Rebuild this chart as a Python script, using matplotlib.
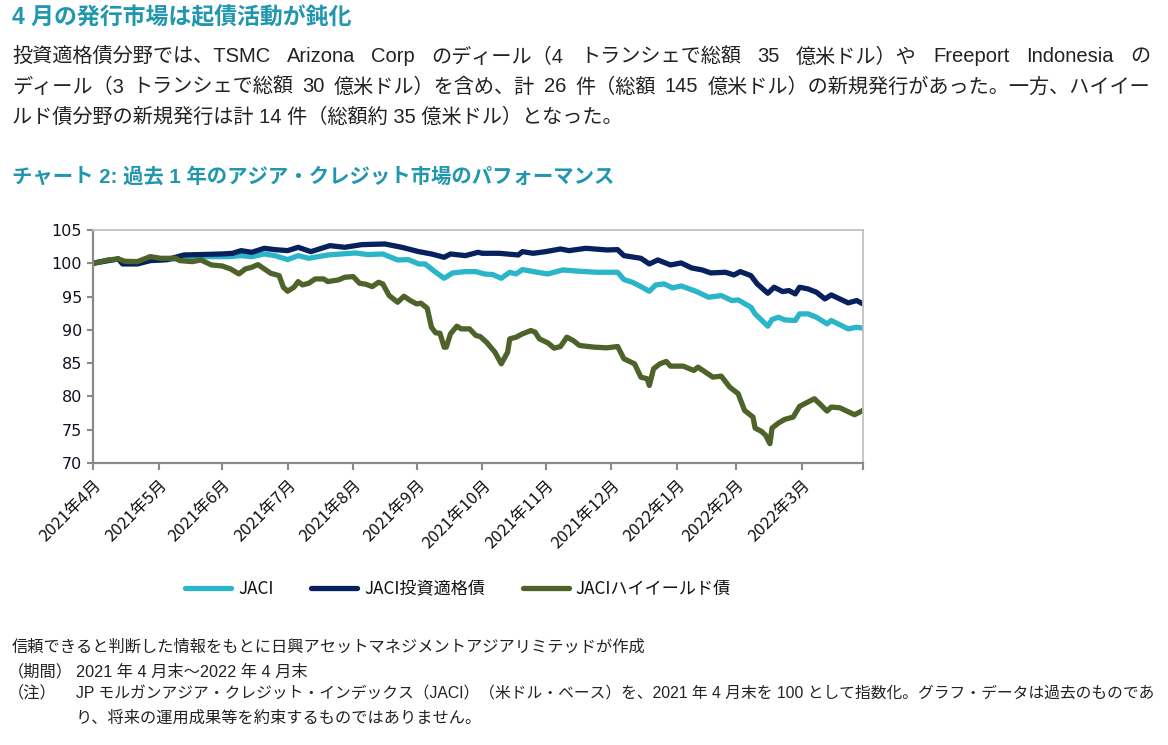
import pandas as pd
import matplotlib
matplotlib.use('Agg')
import matplotlib.pyplot as plt

plt.rcParams['font.family'] = ['Liberation Sans', 'Noto Sans CJK JP']

# 日数は 2021-04-30 からの経過日数
jaci_day = [0, 7, 12, 14, 21, 27, 35, 45, 53, 64, 70, 75, 81, 86, 92, 97, 102, 111, 124, 130,
            137, 144, 149, 154, 157, 162, 166, 170, 176, 181, 185, 189, 193, 197, 200, 203, 210, 215, 222, 230,
            238, 248, 251, 255, 259, 263, 266, 270, 274, 278, 285, 291, 297, 302, 305, 311, 313, 319, 321, 324,
            327, 332, 334, 338, 342, 347, 349, 357, 361, 364]
jaci_val = [100.0, 100.4, 100.65, 100.0, 100.0, 100.45, 100.55, 100.85, 101.0, 101.0,
            101.15, 101.0, 101.4, 101.15, 100.55, 101.15, 100.75, 101.25, 101.55, 101.3,
            101.4, 100.5, 100.55, 99.9, 99.9, 98.65, 97.75, 98.55, 98.75, 98.75,
            98.4, 98.3, 97.75, 98.65, 98.4, 99.05, 98.65, 98.4, 99.0, 98.8,
            98.65, 98.65, 97.55, 97.15, 96.5, 95.8, 96.75, 96.9, 96.3, 96.6,
            95.8, 94.9, 95.15, 94.4, 94.5, 93.4, 92.4, 90.55, 91.55, 91.9,
            91.5, 91.4, 92.4, 92.4, 91.9, 90.9, 91.4, 90.15, 90.4, 90.25]

ig_day = [0, 7, 12, 14, 21, 27, 35, 43, 50, 61, 66, 70, 75, 81, 86, 92, 97, 103, 112, 119,
          127, 138, 146, 154, 160, 166, 169, 176, 182, 184, 192, 201, 203, 208, 214, 221, 225, 233, 243, 248,
          251, 259, 263, 267, 273, 278, 283, 288, 292, 299, 303, 306, 311, 314, 319, 322, 326, 329, 332, 334,
          338, 342, 346, 349, 357, 361, 364]
ig_val = [100.0, 100.4, 100.65, 99.9, 99.9, 100.4, 100.55, 101.25, 101.3, 101.4,
          101.5, 101.9, 101.65, 102.25, 102.05, 101.9, 102.4, 101.75, 102.65, 102.4,
          102.8, 102.9, 102.4, 101.75, 101.4, 100.9, 101.4, 101.15, 101.65, 101.5,
          101.5, 101.25, 101.75, 101.5, 101.75, 102.15, 101.9, 102.25, 102.0, 102.05,
          101.15, 100.75, 99.9, 100.5, 99.75, 100.05, 99.3, 99.0, 98.55, 98.65,
          98.25, 98.75, 98.15, 96.9, 95.5, 96.4, 95.75, 95.9, 95.4, 96.4,
          96.15, 95.65, 94.65, 95.25, 94.05, 94.4, 93.9]

hy_day = [0, 7, 12, 15, 21, 27, 32, 39, 41, 47, 51, 56, 61, 65, 69, 72, 75, 78, 81, 84,
          88, 90, 92, 95, 97, 99, 102, 105, 109, 111, 116, 119, 123, 126, 129, 132, 135, 137, 140, 144,
          147, 150, 153, 155, 158, 160, 162, 164, 166, 167, 169, 172, 174, 178, 181, 183, 186, 190, 193, 196,
          197, 200, 203, 207, 209, 211, 215, 218, 221, 224, 227, 230, 237, 243, 248, 251, 256, 259, 262, 263,
          265, 268, 271, 273, 279, 284, 286, 293, 297, 301, 305, 308, 312, 313, 316, 318, 320, 321, 324, 327,
          331, 334, 337, 341, 344, 347, 349, 353, 360, 364]
hy_val = [100.0, 100.5, 100.65, 100.3, 100.25, 101.0, 100.75, 100.75, 100.4, 100.25,
          100.5, 99.75, 99.6, 99.15, 98.4, 99.15, 99.4, 99.8, 99.15, 98.5,
          98.15, 96.4, 95.8, 96.4, 97.25, 96.75, 97.0, 97.65, 97.65, 97.25,
          97.5, 97.9, 98.0, 97.0, 96.85, 96.5, 97.15, 96.9, 95.15, 94.15,
          95.05, 94.4, 93.9, 94.0, 93.25, 90.4, 89.55, 89.5, 87.4, 87.4,
          89.4, 90.55, 90.15, 90.15, 89.15, 89.0, 88.15, 86.65, 84.9, 86.65,
          88.65, 88.9, 89.4, 89.9, 89.65, 88.65, 88.05, 87.25, 87.5, 88.9,
          88.4, 87.65, 87.4, 87.3, 87.5, 85.65, 84.9, 82.9, 82.65, 81.65,
          84.15, 84.9, 85.25, 84.55, 84.55, 83.9, 84.4, 82.9, 83.05, 81.4,
          80.4, 77.9, 76.9, 75.25, 74.75, 74.15, 72.9, 75.25, 76.0, 76.55,
          76.9, 78.5, 79.0, 79.65, 78.75, 77.8, 78.4, 78.3, 77.25, 77.9]

series_names = ['JACI', 'JACI投資適格債', 'JACIハイイールド債']
month_labels = ['2021年4月', '2021年5月', '2021年6月', '2021年7月', '2021年8月', '2021年9月',
                '2021年10月', '2021年11月', '2021年12月', '2022年1月', '2022年2月', '2022年3月']

start = pd.Timestamp('2021-04-30')
end = pd.Timestamp('2022-04-29')

W, H = 1168, 745
fig = plt.figure(figsize=(W / 100, H / 100), dpi=100)
teal = '#2196AF'
txt = '#222222'

ax = fig.add_axes([93 / W, 1 - 463 / H, (863 - 93) / W, (463 - 230) / H])

colors = ['#2BB5C8', '#07215E', '#4E6329']
for days, vals, name, c in zip([jaci_day, ig_day, hy_day], [jaci_val, ig_val, hy_val], series_names, colors):
    dates = start + pd.to_timedelta(days, unit='D')
    ax.plot(dates, vals, color=c, lw=3.8, label=name, solid_capstyle='round', solid_joinstyle='round')

ax.set_xlim(start, end)
ax.set_ylim(70, 105)
ax.set_yticks(range(70, 106, 5))
ticks = list(pd.date_range(start, '2022-03-31', freq='ME')) + [end]
ax.set_xticks(ticks)
ax.set_xticklabels(month_labels + [''], rotation=45, ha='right', va='top', rotation_mode='anchor',
                   fontsize=12, family=['Noto Sans CJK JP'], color='#111111')
for lab in ax.get_yticklabels():
    lab.set_family(['DejaVu Sans'])
ax.tick_params(axis='y', labelsize=11.5, labelcolor='#111122', length=4, width=1.5, color='#8a8a8a', pad=4)
ax.tick_params(axis='x', length=5, width=1.5, color='#8a8a8a', pad=5)
for s in ['left', 'bottom']:
    ax.spines[s].set_color('#8a8a8a')
    ax.spines[s].set_linewidth(1.6)
for s in ['top', 'right']:
    ax.spines[s].set_color('#c0c0c0')
    ax.spines[s].set_linewidth(1.3)

leg = fig.legend(loc='center', bbox_to_anchor=(458 / W, 1 - 589 / H), ncol=3, frameon=False,
                 prop={'family': ['Noto Sans CJK JP'], 'size': 12.3}, handlelength=2.7,
                 handletextpad=0.4, columnspacing=2.2)
for t in leg.get_texts():
    t.set_color('#111111')


def fy(y):
    return 1 - y / H


def justify(y, parts, x0, x1, **kw):
    # 両端揃え: 単語の間隔を広げて行幅に合わせる
    texts = [fig.text(0, fy(y), p, va='center', ha='left', **kw) for p in parts]
    r = fig.canvas.get_renderer()
    widths = [t.get_window_extent(r).width for t in texts]
    gap = (x1 - x0 - sum(widths)) / (len(parts) - 1)
    x = x0
    for t, w in zip(texts, widths):
        t.set_x(x / W)
        x += w + gap


def fit(x0, y, s, x1, **kw):
    # 行幅に収まるよう文字サイズを縮める
    t = fig.text(x0 / W, fy(y), s, **kw)
    w = t.get_window_extent(fig.canvas.get_renderer()).width
    if w > x1 - x0:
        t.set_fontsize(t.get_fontsize() * (x1 - x0) / w)
    return t


fig.text(12 / W, fy(18), '4 月の発行市場は起債活動が鈍化', fontsize=16.5, fontweight='bold',
         color=teal, va='center')

body = dict(fontsize=14.5, color=txt)
justify(57, ['投資適格債分野では、TSMC', 'Arizona', 'Corp', 'のディール（4', 'トランシェで総額', '35',
             '億米ドル）や', 'Freeport', 'Indonesia', 'の'], 12, 1150, **body)
justify(87, ['ディール（3', 'トランシェで総額', '30', '億米ドル）を含め、計', '26', '件（総額', '145',
             '億米ドル）の新規発行があった。一方、ハイイー'], 12, 1150, **body)
fig.text(12 / W, fy(117), 'ルド債分野の新規発行は計 14 件（総額約 35 億米ドル）となった。', va='center', **body)

fig.text(12 / W, fy(177), 'チャート 2: 過去 1 年のアジア・クレジット市場のパフォーマンス', fontsize=14.7,
         fontweight='bold', color=teal, va='center')

note = dict(fontsize=11.7, color=txt, va='center')
fig.text(12 / W, fy(647), '信頼できると判断した情報をもとに日興アセットマネジメントアジアリミテッドが作成', **note)
fig.text(8 / W, fy(672), '（期間）', **note)
fig.text(76 / W, fy(672), '2021 年 4 月末～2022 年 4 月末', **note)
fig.text(8 / W, fy(694), '（注）', **note)
fit(76, 694, 'JP モルガンアジア・クレジット・インデックス（JACI）（米ドル・ベース）を、2021 年 4 月末を 100 '
    'として指数化。グラフ・データは過去のものであ', 1152, **note)
fig.text(76 / W, fy(718), 'り、将来の運用成果等を約束するものではありません。', **note)

fig.savefig('out.png', dpi=100)
